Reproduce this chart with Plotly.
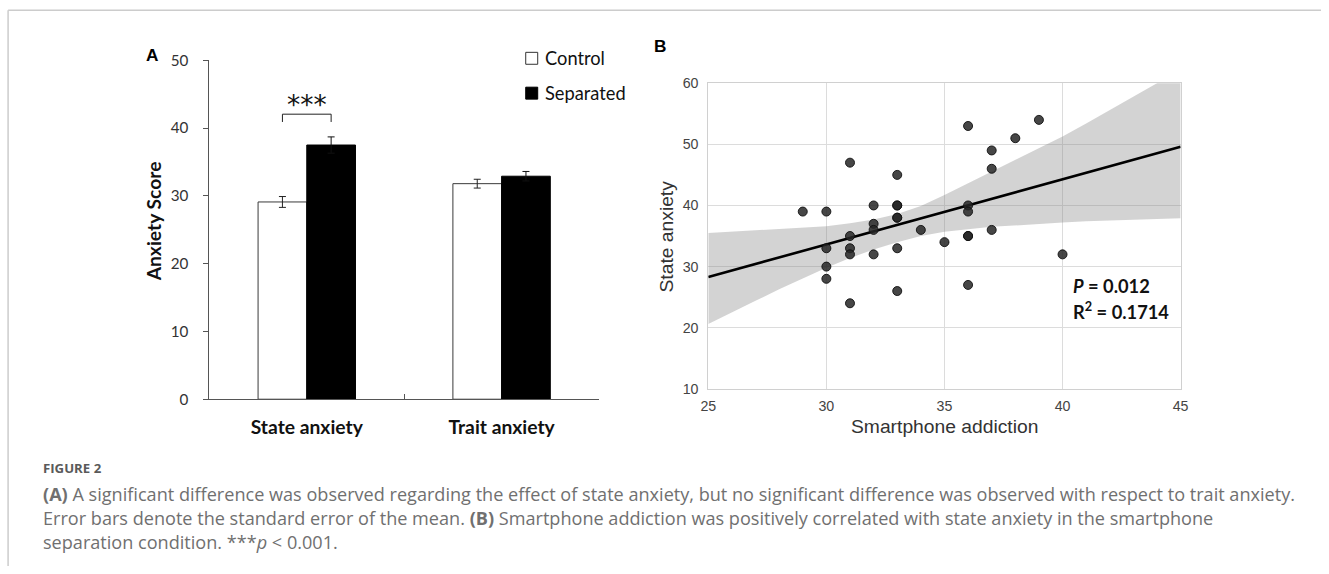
import plotly.graph_objects as go

# Rendering model (measured from test renders): the page keeps an 8 px body
# margin and the photographed page is scaled by (1329/1345, 574/590).
# Positions below are given in target-picture pixels and converted.
W, H = 1329, 574
PAGE_MARGIN = 8
SX, SY = 1329 / 1345, 574 / 590
FS = 1.015  # compensate the slight down-scaling of text


def fx(px):
    return (px / SX - PAGE_MARGIN) / W


def fy(py):
    return 1 - (py / SY - PAGE_MARGIN) / H


# ---------------- Panel A data ----------------
categories = ["State anxiety", "Trait anxiety"]
control_mean = [29.1, 31.8]
control_sem = [0.8, 0.65]
separated_mean = [37.5, 32.9]
separated_sem = [1.2, 0.7]
group_names = ["Control", "Separated"]

# ---------------- Panel B data ----------------
addiction = [29,
             30, 30, 30, 30,
             31, 31, 31, 31, 31,
             32, 32, 32, 32,
             33, 33, 33, 33, 33, 33, 33,
             34,
             35,
             36, 36, 36, 36, 36, 36,
             37, 37, 37,
             38,
             39,
             40]
state_anxiety = [39,
                 39, 33, 30, 28,
                 47, 35, 33, 32, 24,
                 40, 37, 36, 32,
                 45, 40, 40, 38, 38, 33, 26,
                 36,
                 34,
                 53, 40, 39, 35, 35, 27,
                 49, 46, 36,
                 51,
                 54,
                 32]
fit_x = [25, 45]
fit_y = [28.3, 49.6]
band_x = [25, 26, 27, 28, 29, 30, 31, 32, 33, 34, 35, 36, 37, 38, 39, 40, 41, 42, 43, 44, 45]
band_upper = [35.5, 35.7, 35.9, 36.1, 36.3, 36.6, 37.1, 37.7, 38.6, 39.9, 41.7,
              43.6, 45.5, 47.5, 49.4, 51.3, 53.4, 55.6, 57.8, 60.0, 62.2]
band_lower = [20.6, 22.5, 24.4, 26.3, 28.1, 29.8, 31.4, 32.8, 34.0, 35.0, 35.7,
              36.1, 36.5, 36.8, 37.0, 37.2, 37.4, 37.5, 37.7, 37.8, 37.9]
p_text = "<b><i>P</i> = 0.012</b>"
r2_text = "<b>R<sup>2</sup> = 0.1714</b>"

caption_title = "FIGURE 2"
caption_lines = [
    "<b>(A)</b> A significant difference was observed regarding the effect of state anxiety, "
    "but no significant difference was observed with respect to trait anxiety.",
    "Error bars denote the standard error of the mean. <b>(B)</b> Smartphone addiction was "
    "positively correlated with state anxiety in the smartphone",
    "separation condition. ***<i>p</i> &lt; 0.001.",
]

BARGAP = 0.5
fig = go.Figure()

fig.add_trace(go.Bar(
    x=categories, y=control_mean, name=group_names[0],
    marker=dict(color="white", line=dict(color="#3a3a3a", width=1)),
    error_y=dict(type="data", array=control_sem, color="#222", thickness=1, width=3.5),
    xaxis="x", yaxis="y", showlegend=False,
))
fig.add_trace(go.Bar(
    x=categories, y=separated_mean, name=group_names[1],
    marker=dict(color="black", line=dict(color="black", width=1)),
    error_y=dict(type="data", array=separated_sem, color="#111", thickness=1, width=3.5),
    xaxis="x", yaxis="y", showlegend=False,
))

# Panel B: confidence band, fit line, points
fig.add_trace(go.Scatter(
    x=band_x + band_x[::-1], y=band_upper + band_lower[::-1],
    fill="toself", fillcolor="rgba(128,128,128,0.35)", line=dict(width=0),
    mode="lines", hoverinfo="skip", showlegend=False, xaxis="x2", yaxis="y2",
))
fig.add_trace(go.Scatter(
    x=fit_x, y=fit_y, mode="lines", line=dict(color="black", width=2.6),
    showlegend=False, xaxis="x2", yaxis="y2",
))
fig.add_trace(go.Scatter(
    x=addiction, y=state_anxiety, mode="markers",
    marker=dict(size=9, color="rgba(38,38,38,0.85)", line=dict(color="rgba(15,15,15,0.9)", width=1)),
    showlegend=False, xaxis="x2", yaxis="y2",
))

bar_w = (1 - BARGAP) / 2
sig_x0 = 0 - bar_w / 2
sig_x1 = 0 + bar_w / 2

shapes = [
    # significance bracket
    dict(type="line", xref="x", yref="y", x0=sig_x0, x1=sig_x1, y0=42.05, y1=42.05,
         line=dict(color="#222", width=1)),
    dict(type="line", xref="x", yref="y", x0=sig_x0, x1=sig_x0, y0=40.9, y1=42.05,
         line=dict(color="#222", width=1)),
    dict(type="line", xref="x", yref="y", x0=sig_x1, x1=sig_x1, y0=40.9, y1=42.05,
         line=dict(color="#222", width=1)),
    # legend swatches
    dict(type="rect", xref="paper", yref="paper", x0=fx(525.7), x1=fx(537.7),
         y0=fy(62.3), y1=fy(50.3), line=dict(color="#333", width=1), fillcolor="white"),
    dict(type="rect", xref="paper", yref="paper", x0=fx(525.7), x1=fx(537.7),
         y0=fy(97.3), y1=fy(85.3), line=dict(color="black", width=1), fillcolor="black"),
    # page frame
    dict(type="line", xref="paper", yref="paper", x0=fx(8), x1=1, y0=fy(8), y1=fy(8),
         line=dict(color="#cccccc", width=1.5)),
    dict(type="line", xref="paper", yref="paper", x0=fx(8), x1=fx(8), y0=fy(8), y1=0,
         line=dict(color="#cccccc", width=1.5)),
]


def ann(text, px, py, size, family="Lato", color="#111", xanchor="center", angle=0, **kw):
    return dict(text=text, x=fx(px), y=fy(py), xref="paper", yref="paper", showarrow=False,
                xanchor=xanchor, yanchor="middle", textangle=angle,
                font=dict(family=family, size=size, color=color), **kw)


annotations = [
    ann("<b>A</b>", 152, 52.8, 17 * FS, family="Liberation Sans", color="black"),
    ann("<b>B</b>", 659.7, 43.8, 17 * FS, family="Liberation Sans", color="black"),
    ann("<b>Anxiety Score</b>", 153, 220, 19 * FS, angle=-90),
    ann(group_names[0], 543.3, 56.3, 18 * FS, xanchor="left"),
    ann(group_names[1], 543.3, 91.3, 18 * FS, xanchor="left"),
    ann("State anxiety", 666.8, 235.5, 19 * FS, family="Liberation Sans", color="#333", angle=-90),
    ann("Smartphone addiction", 944.5, 426, 19 * FS, family="Liberation Sans", color="#333"),
    ann(p_text, 1071, 285, 18 * FS, xanchor="left"),
    ann(r2_text, 1071, 310, 18 * FS, xanchor="left"),
    ann("<b>" + caption_title + "</b>", 41, 468, 13 * FS, family="Open Sans", color="#5a5a5a",
        xanchor="left"),
    dict(text="***", x=0, y=43.4, xref="x", yref="y", showarrow=False, xanchor="center",
         yanchor="middle", font=dict(family="DejaVu Sans", size=26 * FS, color="#111")),
]
for line, py in zip(caption_lines, [494, 517.7, 542]):
    annotations.append(ann(line, 41, py, 18.1, family="Open Sans", color="#707070", xanchor="left"))

fig.update_layout(
    width=W, height=H, autosize=False,
    margin=dict(l=0, r=0, t=0, b=0),
    paper_bgcolor="white", plot_bgcolor="white",
    barmode="group", bargap=BARGAP, bargroupgap=0,
    showlegend=False,
    xaxis=dict(domain=[fx(209.3), fx(599)], anchor="y", type="category",
               range=[-0.5, 1.5], tickson="boundaries", ticks="inside", ticklen=5,
               tickcolor="#555", showline=True, linecolor="#555", linewidth=1,
               showgrid=False, zeroline=False, ticklabelstandoff=11,
               tickfont=dict(family="Lato", size=19 * FS, color="#111", weight="bold")),
    yaxis=dict(domain=[fy(398.7), fy(58.3)], anchor="x", range=[0, 50], dtick=10,
               ticks="outside", ticklen=5, tickcolor="#555", showline=True,
               linecolor="#555", linewidth=1, showgrid=False, zeroline=False,
               ticklabelstandoff=12,
               tickfont=dict(family="Lato", size=15 * FS, color="#333")),
    xaxis2=dict(domain=[fx(708.3), fx(1180.7)], anchor="y2", range=[25, 45], dtick=5,
                showgrid=True, gridcolor="#dcdcdc", gridwidth=1, showline=True, mirror=True,
                linecolor="#d0d0d0", linewidth=1, zeroline=False, ticks="",
                ticklabelstandoff=4,
                tickfont=dict(family="Liberation Sans", size=14 * FS, color="#444")),
    yaxis2=dict(domain=[fy(388.3), fy(81.3)], anchor="x2", range=[10, 60], dtick=10,
                showgrid=True, gridcolor="#dcdcdc", gridwidth=1, showline=True, mirror=True,
                linecolor="#d0d0d0", linewidth=1, zeroline=False, ticks="",
                ticklabelstandoff=6,
                tickfont=dict(family="Liberation Sans", size=14 * FS, color="#444")),
    shapes=shapes,
    annotations=annotations,
)

fig.write_html("out.html", config={"displayModeBar": False})
